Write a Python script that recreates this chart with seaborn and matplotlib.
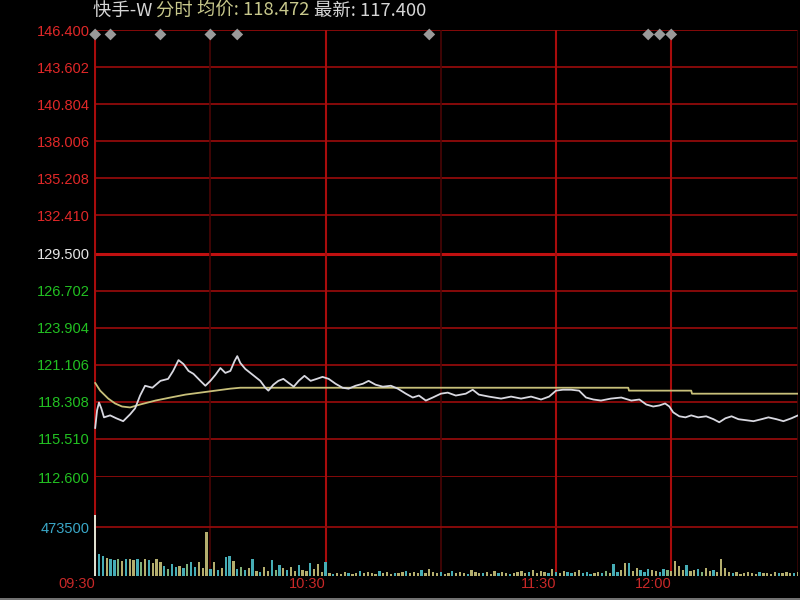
import numpy as np
import pandas as pd
import matplotlib
matplotlib.use("Agg")
import matplotlib.pyplot as plt
import seaborn as sns

# ---------------- data ----------------
title_name = "快手-W"
title_mode = "分时"
title_avg = "均价: 118.472"
title_last = "最新: 117.400"

price_ticks = [146.400, 143.602, 140.804, 138.006, 135.208, 132.410, 129.500,
               126.702, 123.904, 121.106, 118.308, 115.510, 112.600]
price_tick_labels = ["146.400", "143.602", "140.804", "138.006", "135.208", "132.410",
                     "129.500", "126.702", "123.904", "121.106", "118.308", "115.510", "112.600"]
prev_close = 129.500

# minute index since 09:30 (continuous trading minutes)
price_t = [0, 0.5, 1, 1.6, 2.3, 3.9, 5.5, 7.3, 9.1, 10.4, 11.7, 13.0, 14.9, 17.0, 19.0,
           20.3, 21.7, 23.0, 24.3, 25.6, 27.4, 28.7, 30.0, 31.3, 32.6, 33.9, 35.2, 36.3,
           37.0, 37.8, 39.1, 40.4, 41.7, 43.0, 44.3, 45.1, 46.4, 47.7, 49.0, 50.3, 51.7,
           53.0, 54.5, 56.1, 57.7, 59.2, 60.8, 62.6, 64.4, 66.0, 67.8, 69.7, 71.2, 73.0,
           74.9, 77.0, 78.8, 80.9, 82.7, 84.3, 86.1, 87.9, 90.0, 91.8, 93.9, 96.5, 98.3,
           99.9, 102.5, 105.7, 108.3, 110.9, 113.5, 116.1, 118.2, 120.0, 121.8, 123.9,
           126.0, 127.8, 129.7, 131.7, 134.3, 137.0, 139.6, 141.7, 143.5, 145.3, 146.9,
           148.4, 149.5, 150.5, 152.1, 153.7, 155.2, 157.0, 159.1, 161.0, 162.5, 164.1,
           165.7, 167.5, 169.6, 171.4, 173.5, 175.3, 177.4, 179.2, 181.3, 183.0]
price_v = [116.29, 117.64, 118.23, 117.79, 117.11, 117.26, 117.04, 116.82, 117.34, 117.79,
           118.76, 119.50, 119.35, 119.87, 120.02, 120.62, 121.44, 121.14, 120.62, 120.40,
           119.87, 119.50, 119.87, 120.32, 120.84, 120.47, 120.62, 121.37, 121.74, 121.22,
           120.77, 120.47, 120.17, 119.87, 119.35, 119.13, 119.58, 119.87, 120.02, 119.73,
           119.43, 119.87, 120.25, 119.87, 120.02, 120.17, 120.02, 119.65, 119.35, 119.28,
           119.50, 119.65, 119.87, 119.58, 119.43, 119.50, 119.28, 118.90, 118.61, 118.76,
           118.38, 118.61, 118.90, 118.98, 118.76, 118.90, 119.20, 118.83, 118.68, 118.53,
           118.68, 118.53, 118.68, 118.46, 118.68, 119.13, 119.20, 119.20, 119.13, 118.61,
           118.46, 118.38, 118.53, 118.61, 118.38, 118.46, 118.08, 117.93, 118.01, 118.16,
           117.93, 117.49, 117.19, 117.11, 117.26, 117.11, 117.19, 116.97, 116.74, 117.04,
           117.19, 116.97, 116.89, 116.82, 116.97, 117.11, 116.97, 116.82, 117.04, 117.26]

avg_t = [0, 1.3, 3.4, 5.2, 7.0, 9.1, 11.7, 15.7, 19.6, 23.5, 27.4, 31.3, 35.2, 37.8,
         138.8, 139.0, 155.2, 155.4, 183.0]
avg_v = [119.72, 119.13, 118.53, 118.16, 117.93, 117.86, 118.08, 118.38, 118.61, 118.83,
         118.98, 119.13, 119.28, 119.35, 119.35, 119.13, 119.13, 118.90, 118.90]

# volume per minute (thousand shares)
vol_v = [597,
         218, 199, 180, 161, 152, 161, 142, 170, 161, 152,
         170, 133, 161, 152, 123, 170, 133, 95, 66, 114,
         85, 95, 76, 114, 133, 85, 133, 76, 426, 66,
         133, 57, 76, 189, 199, 142, 66, 85, 57, 76,
         161, 47, 38, 85, 47, 152, 57, 104, 76, 57,
         85, 47, 104, 57, 47, 123, 66, 114, 38, 133,
         28, 19, 28, 19, 38, 28, 19, 28, 47, 28,
         38, 28, 19, 47, 28, 38, 19, 28, 28, 38,
         47, 28, 38, 28, 57, 28, 66, 38, 28, 38,
         19, 28, 47, 28, 38, 28, 19, 57, 38, 28,
         28, 38, 19, 47, 28, 38, 28, 19, 28, 38,
         47, 28, 38, 57, 28, 47, 38, 28, 66, 38,
         28, 47, 38, 28, 38, 57, 28, 38, 19, 28,
         38, 28, 47, 28, 114, 38, 57, 123, 123, 47,
         76, 57, 38, 66, 57, 47, 38, 66, 57, 47,
         142, 95, 57, 104, 47, 57, 66, 38, 76, 47,
         57, 38, 170, 76, 38, 28, 38, 19, 28, 38,
         28, 19, 38, 28, 28, 19, 38, 28, 28, 38, 28, 28, 38]
vol_t = list(range(len(vol_v)))
vol_dir = ("w" + "ddyddgydyy" + "dgydyyydgd" + "dydgddyyyd" + "ydyddydgdy" + "dydyydgdyd"
           + "yydyydyyyd" + "ydyyydyydy" + "yyydyyydyy" + "dyyydyyyyd" + "yydyyydyyy"
           + "dyyydyydyy" + "yydyyyydyd" + "yyddyydddy" + "ydgyddyydy" + "ydddyyddgy"
           + "yyydyydgyy" + "dyyyydyyyy" + "yydyyyydyy" + "ydy")
vol_grid = 473.5
vol_grid_label = "473500"

news_t = [0, 4, 17, 30, 37, 87, 144, 147, 150]

time_ticks = [0, 60, 120, 150]
time_labels = ["09:30", "10:30", "11:30", "12:00"]
bright_v = [0, 60, 120, 150]
dim_v = [30, 90]

# ---------------- style ----------------
sns.set_theme(style="dark")
plt.rcParams["font.family"] = ["Liberation Sans", "DejaVu Sans"]
plt.rcParams["patch.edgecolor"] = "none"
BG = "#000000"
GRID = "#900a0a"
RED_TXT = "#e02828"
GREEN_TXT = "#22c022"

fig = plt.figure(figsize=(8, 6), dpi=100, facecolor=BG)
W, H = 800, 600
L, R = 94, 798
ax = fig.add_axes([L / W, 1 - 477 / H, (R - L) / W, (477 - 30) / H])
axv = fig.add_axes([L / W, 1 - 576 / H, (R - L) / W, (576 - 477) / H])
for a in (ax, axv):
    a.set_facecolor(BG)
    for s in a.spines.values():
        s.set_visible(False)
    a.grid(False)

xmin, xmax = -0.3, 183.0
# price panel
ax.set_xlim(xmin, xmax)
ax.set_ylim(price_ticks[-1], price_ticks[0])
for v in price_ticks:
    if v == prev_close:
        ax.axhline(v, color="#c01010", lw=2.2, zorder=1)
    else:
        ax.axhline(v, color=GRID, lw=1.3, zorder=1)
for a in (ax, axv):
    for v in bright_v:
        a.axvline(v, color="#a80c0c", lw=1.5, zorder=1)
    for v in dim_v:
        a.axvline(v, color="#4a0606", lw=1.2, zorder=1)
    a.axvline(xmax, color="#3a0505", lw=1.2, zorder=1)

sns.lineplot(x=avg_t, y=avg_v, ax=ax, color="#c8c07a", lw=1.3, estimator=None, sort=False, zorder=3)
sns.lineplot(x=price_t, y=price_v, ax=ax, color="#d8d8e0", lw=1.3, estimator=None, sort=False, zorder=4)
sns.scatterplot(x=news_t, y=[0.99] * len(news_t), ax=ax, marker="D", s=36, color="#9a9a9a",
                edgecolor="none", transform=ax.get_xaxis_transform(), clip_on=False, zorder=5)

ax.set_yticks(price_ticks)
ax.set_yticklabels(price_tick_labels)
ax.set_xticks([])
ax.tick_params(axis="y", length=0, pad=3, labelsize=10.5)
for lbl, v in zip(ax.get_yticklabels(), price_ticks):
    if v > prev_close:
        lbl.set_color(RED_TXT)
    elif v == prev_close:
        lbl.set_color("#e6e6e6")
    else:
        lbl.set_color(GREEN_TXT)
ax.set_xlabel("")
ax.set_ylabel("")

# volume panel
palette = {"w": "#e0e0d0", "d": "#46adb6", "y": "#b4ae6e", "g": "#7fb07a"}
dirs = list((vol_dir + "y" * 400)[:len(vol_v)])
vdf = pd.DataFrame({"t": vol_t, "v": vol_v, "d": dirs})
sns.barplot(data=vdf, x="t", y="v", hue="d", palette=palette, native_scale=True, width=0.6,
            dodge=False, saturation=1, errorbar=None, legend=False, ax=axv, zorder=3,
            linewidth=0, edgecolor="none")
axv.set_xlim(xmin, xmax)
axv.set_ylim(0, (vol_grid * 2) * 1.02)
axv.axhline(vol_grid, color=GRID, lw=1.3, zorder=1)
axv.set_yticks([vol_grid])
axv.set_yticklabels([vol_grid_label])
axv.tick_params(axis="y", length=0, pad=3, labelsize=10.5, labelcolor="#3aa8c8")
axv.set_xticks(time_ticks)
axv.set_xticklabels(time_labels, ha="right")
axv.tick_params(axis="x", length=0, pad=1, labelsize=10.5, labelcolor="#c82828")
axv.set_xlabel("")
axv.set_ylabel("")

# bottom border
fig.add_artist(plt.Line2D([0, 1], [1 - 598.5 / H, 1 - 598.5 / H], color="#8a8a8a", lw=1.2))

# title pieces
fig.canvas.draw()
renderer = fig.canvas.get_renderer()
x = 93 / W
y = 1 - 11 / H
pieces = [(title_name + " ", "#d6d6d6"), (title_mode + " ", "#c8c88c"),
          (title_avg + " ", "#c8c88c"), (title_last, "#d6d6d6")]
for txt, col in pieces:
    t = fig.text(x, y, txt, color=col, fontsize=13.2, va="center", ha="left",
                 family=["Noto Sans CJK SC", "DejaVu Sans"])
    bb = t.get_window_extent(renderer=renderer)
    x = bb.x1 / fig.bbox.width

fig.savefig("out.png", dpi=100, facecolor=BG)
